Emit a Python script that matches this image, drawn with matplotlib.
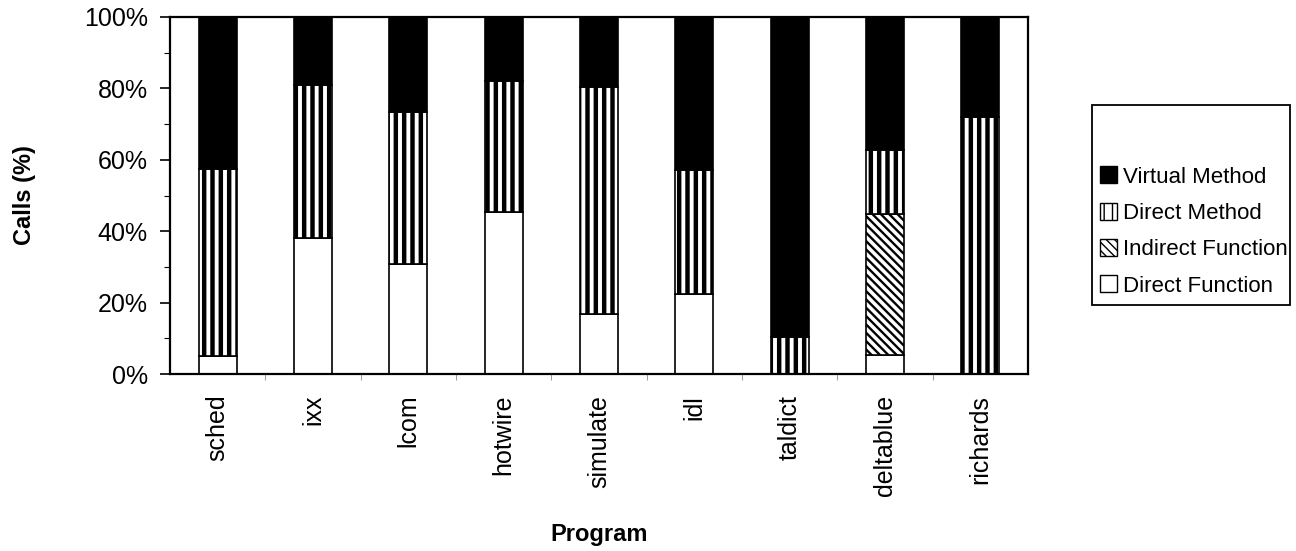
#!/usr/bin/env python3
"""Call-type breakdown per benchmark program, stacked to 100%."""

import matplotlib

matplotlib.use("Agg")
import matplotlib.pyplot as plt
import matplotlib.ticker as mticker
from matplotlib.patches import Patch, Rectangle

plt.rcParams["font.family"] = ["Liberation Sans", "DejaVu Sans"]
plt.rcParams["hatch.color"] = "black"

programs = ["sched", "ixx", "lcom", "hotwire", "simulate", "idl", "taldict", "deltablue", "richards"]
direct_function = [5.0, 38.0, 30.7, 45.5, 16.7, 22.3, 0.0, 5.3, 0.0]
indirect_function = [0.0, 0.0, 0.0, 0.0, 0.0, 0.0, 0.0, 39.4, 0.0]
direct_method = [52.5, 43.0, 42.7, 36.5, 63.8, 34.8, 10.3, 18.0, 72.0]
virtual_method = [42.5, 19.0, 26.6, 18.0, 19.5, 42.9, 89.7, 37.3, 28.0]

# (label, values, facecolor, hatch, hatch linewidth) in stacking order
SERIES = [
    ("Direct Function", direct_function, "white", None, 1.0),
    ("Indirect Function", indirect_function, "white", "\\\\\\\\", 1.7),
    ("Direct Method", direct_method, "white", "||", 3.2),
    ("Virtual Method", virtual_method, "black", None, 1.0),
]


def set_hatch_lw(patch, lw):
    try:
        patch.set_hatch_linewidth(lw)
    except AttributeError:
        pass


def main() -> None:
    fig = plt.figure(figsize=(12.96, 5.51), dpi=100)
    ax = fig.add_axes([170 / 1296, 1 - 374 / 551, 858 / 1296, 357 / 551])

    x = list(range(len(programs)))
    bottom = [0.0] * len(programs)
    for label, vals, fc, hatch, hlw in SERIES:
        plt.rcParams["hatch.linewidth"] = hlw
        bars = ax.bar(x, vals, bottom=bottom, width=0.4, color=fc, edgecolor="black",
                      linewidth=1.2, hatch=hatch, label=label)
        for b in bars:
            set_hatch_lw(b, hlw)
        bottom = [b0 + v for b0, v in zip(bottom, vals)]

    ax.set_xlim(-0.5, len(programs) - 0.5)
    ax.set_ylim(0, 100)
    ax.yaxis.set_major_locator(mticker.MultipleLocator(20))
    ax.yaxis.set_minor_locator(mticker.MultipleLocator(10))
    ax.yaxis.set_major_formatter(mticker.FuncFormatter(lambda v, _: f"{v:.0f}%"))
    ax.tick_params(axis="y", which="major", length=7, width=1.2, pad=9, labelsize=18)
    ax.tick_params(axis="y", which="minor", length=4, width=0.8)

    ax.set_xticks(x)
    ax.set_xticklabels(programs, rotation=90, va="top", ha="center")
    ax.xaxis.set_minor_locator(mticker.FixedLocator([i + 0.5 for i in x[:-1]]))
    ax.tick_params(axis="x", which="major", length=0, pad=15, labelsize=18)
    ax.tick_params(axis="x", which="minor", length=4, width=0.6, color="#888888")

    for spine in ax.spines.values():
        spine.set_linewidth(1.6)

    fig.text(25 / 1296, 1 - 195 / 551, "Calls (%)", rotation=90, ha="center", va="center",
             fontsize=17, fontweight="bold")
    fig.text(599 / 1296, 1 - 535 / 551, "Program", ha="center", va="center",
             fontsize=17, fontweight="bold")

    # legend: top entry first, frame drawn separately to leave headroom
    handles = []
    for label, _, fc, hatch, hlw in reversed(SERIES):
        plt.rcParams["hatch.linewidth"] = hlw
        h = Patch(facecolor=fc, edgecolor="black", hatch=hatch, linewidth=1.0, label=label)
        set_hatch_lw(h, hlw)
        handles.append(h)
    fig.legend(handles=handles, loc="lower left", bbox_to_anchor=(1096 / 1296, 1 - 301 / 551),
               frameon=False, fontsize=16, handlelength=0.75, handleheight=0.8,
               handletextpad=0.25, labelspacing=0.68, borderpad=0.2, borderaxespad=0)
    fig.add_artist(Rectangle((1092 / 1296, 1 - 305 / 551), 198 / 1296, 200 / 551,
                             transform=fig.transFigure, fill=False, edgecolor="black",
                             linewidth=1.3))

    fig.savefig("out.png", dpi=100, facecolor="white")
    plt.close(fig)


if __name__ == "__main__":
    main()
